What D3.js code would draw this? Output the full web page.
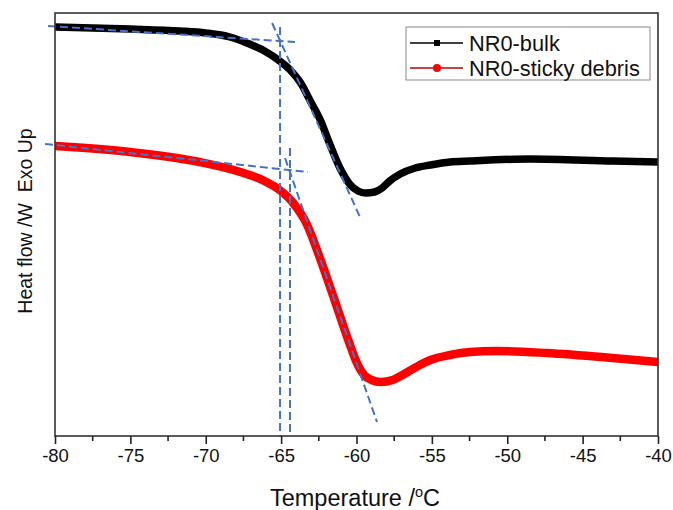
<!DOCTYPE html>
<html>
<head>
<meta charset="utf-8">
<script src="https://cdn.jsdelivr.net/npm/d3@7"></script>
<style>
  html, body { margin: 0; padding: 0; background: #fff; }
  svg { display: block; font-family: "Liberation Sans", Arial, sans-serif; }
</style>
</head>
<body>
<svg id="chart" width="673" height="510"></svg>
<script>
// DSC heat-flow traces (arbitrary units, Exo Up) versus temperature (°C)
const bulkTemp = [-80, -75, -71.7, -70, -68.4, -67.1, -66.1, -65.1, -64.4, -63.7, -63.1, -62.4, -61.8, -61.1, -60.4, -59.9, -59.4, -58.8, -58.3, -57.8, -57.1, -56.1, -55.1, -53.8, -52.5, -48.5, -43, -40];
const bulkFlow = [40.9, 40.7, 40.5, 40.3, 39.9, 39.2, 38.5, 37.5, 36.6, 35.3, 33.6, 31.6, 29.3, 26.8, 25.1, 24.5, 24.3, 24.4, 24.8, 25.5, 26.2, 26.8, 27.1, 27.4, 27.5, 27.7, 27.5, 27.4];

const debrisTemp = [-80, -75, -70.4, -67.7, -66.1, -65.1, -64.2, -63.3, -62.5, -61.5, -60.5, -60.0, -59.5, -59.0, -58.4, -57.6, -56.6, -55.8, -55.1, -53.8, -52.5, -50.7, -47.4, -43, -40];
const debrisFlow = [29.0, 28.4, 27.4, 26.4, 25.5, 24.6, 23.3, 21.2, 18.1, 13.8, 9.4, 7.4, 6.1, 5.6, 5.4, 5.6, 6.4, 7.1, 7.6, 8.1, 8.4, 8.5, 8.3, 7.8, 7.4];

// Tangent constructions for the glass-transition onset: [T1, H1, T2, H2]
const bulkBaseline = [-80.46, 41.0, -64.08, 39.4];
const bulkSlope = [-65.6, 41.3, -59.77, 21.9];
const bulkOnset = [-65.07, 40.9, -65.07, 0];
const debrisBaseline = [-80.66, 29.2, -63.22, 26.4];
const debrisSlope = [-64.74, 27.8, -58.64, 1.4];
const debrisOnset = [-64.41, 28.8, -64.41, 0];

const xTicks = [-80, -75, -70, -65, -60, -55, -50, -45, -40];
const xMinorTicks = [-77.5, -72.5, -67.5, -62.5, -57.5, -52.5, -47.5, -42.5];
const seriesNames = ["NR0-bulk", "NR0-sticky debris"];

const svg = d3.select("#chart");
const plotL = 55, plotR = 658, plotT = 13, plotB = 436;

const x = d3.scaleLinear().domain([-80, -40]).range([plotL, plotR]);
const y = d3.scaleLinear().domain([0, 42.3]).range([plotB, plotT]);

svg.append("defs").append("clipPath").attr("id", "plotClip")
  .append("rect").attr("x", plotL).attr("y", plotT)
  .attr("width", plotR - plotL).attr("height", plotB - plotT);

const line = d3.line().x(d => x(d[0])).y(d => y(d[1])).curve(d3.curveMonotoneX);

const plot = svg.append("g").attr("clip-path", "url(#plotClip)");

plot.append("path")
  .datum(d3.zip(bulkTemp, bulkFlow))
  .attr("d", line)
  .attr("fill", "none").attr("stroke", "#000")
  .attr("stroke-width", 7.5).attr("stroke-linejoin", "round");

plot.append("path")
  .datum(d3.zip(debrisTemp, debrisFlow))
  .attr("d", line)
  .attr("fill", "none").attr("stroke", "#ff0000")
  .attr("stroke-width", 8.5).attr("stroke-linejoin", "round");

// Dashed tangent and onset lines
const guides = [bulkBaseline, bulkSlope, bulkOnset, debrisBaseline, debrisSlope, debrisOnset];
svg.append("g").selectAll("line").data(guides).join("line")
  .attr("x1", d => x(d[0])).attr("y1", d => y(d[1]))
  .attr("x2", d => x(d[2])).attr("y2", d => y(d[3]))
  .attr("stroke", "#4472c4").attr("stroke-width", 2)
  .attr("stroke-dasharray", "8,4");

// Frame
svg.append("rect")
  .attr("x", plotL).attr("y", plotT)
  .attr("width", plotR - plotL).attr("height", plotB - plotT)
  .attr("fill", "none").attr("stroke", "#333").attr("stroke-width", 1.6);

// Bottom axis
const xAxis = d3.axisBottom(x).tickValues(xTicks).tickSize(8).tickPadding(5)
  .tickFormat(d3.format("d"));
const gx = svg.append("g").attr("transform", `translate(0,${plotB})`).call(xAxis);
gx.select(".domain").remove();
gx.selectAll(".tick line").attr("stroke", "#222").attr("stroke-width", 1.6);
gx.selectAll(".tick text").attr("font-size", 18.5).attr("fill", "#111")
  .attr("font-family", "Liberation Sans, Arial, sans-serif")
  .text(d => String(d));

svg.append("g").selectAll("line").data(xMinorTicks).join("line")
  .attr("x1", d => x(d)).attr("x2", d => x(d))
  .attr("y1", plotB).attr("y2", plotB + 5)
  .attr("stroke", "#222").attr("stroke-width", 1.6);

// Axis titles
const xt = svg.append("text")
  .attr("x", 355).attr("y", 506)
  .attr("text-anchor", "middle")
  .attr("font-size", 23.5).attr("fill", "#111");
xt.append("tspan").text("Temperature /");
xt.append("tspan").text("o").attr("font-size", 14.5).attr("dy", -9);
xt.append("tspan").text("C").attr("dy", 9);

svg.append("text")
  .attr("transform", "translate(32,221) rotate(-90)")
  .attr("text-anchor", "middle")
  .attr("font-size", 19.5).attr("fill", "#111")
  .attr("xml:space", "preserve")
  .style("white-space", "pre")
  .text("Heat flow /W  Exo Up");

// Legend
const legend = svg.append("g");
legend.append("rect")
  .attr("x", 406).attr("y", 27).attr("width", 244).attr("height", 53)
  .attr("fill", "#fff").attr("stroke", "#888").attr("stroke-width", 1);

const legendRows = [
  { name: seriesNames[0], color: "#000", line: "#000", shape: "square", cy: 43 },
  { name: seriesNames[1], color: "#ff0000", line: "#c00000", shape: "circle", cy: 68 }
];
legendRows.forEach(r => {
  legend.append("line")
    .attr("x1", 410).attr("x2", 463).attr("y1", r.cy).attr("y2", r.cy)
    .attr("stroke", r.line).attr("stroke-width", 1.3);
  if (r.shape === "square") {
    legend.append("rect").attr("x", 434).attr("y", r.cy - 3).attr("width", 6).attr("height", 6)
      .attr("fill", r.color);
  } else {
    legend.append("circle").attr("cx", 437).attr("cy", r.cy).attr("r", 4).attr("fill", r.color);
  }
  legend.append("text")
    .attr("x", 469).attr("y", r.cy + 7.5)
    .attr("font-size", 21.8).attr("fill", "#111")
    .text(r.name);
});
</script>
</body>
</html>
